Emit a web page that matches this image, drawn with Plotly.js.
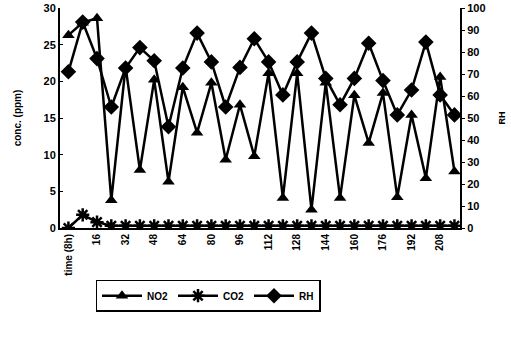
<!DOCTYPE html>
<html>
<head>
<meta charset="utf-8">
<script src="https://cdn.plot.ly/plotly-3.0.1.min.js"></script>
<style>html,body{margin:0;padding:0;background:#fff;}#chart{width:511px;height:339px;}</style>
</head>
<body>
<div id="chart"></div>
<script>
const time = [0, 8, 16, 24, 32, 40, 48, 56, 64, 72, 80, 88, 96, 104, 112, 120, 128, 136, 144, 152, 160, 168, 176, 184, 192, 200, 208, 216];
const no2 = [26.3, 28.0, 28.6, 3.8, 22.0, 7.9, 20.2, 6.3, 19.2, 13.0, 19.8, 9.3, 16.8, 9.8, 21.1, 4.1, 21.1, 2.5, 19.8, 4.1, 18.1, 11.6, 18.4, 4.2, 15.4, 6.8, 20.6, 7.7];
const co2 = [0, 1.8, 0.8, 0.3, 0.3, 0.3, 0.3, 0.3, 0.3, 0.3, 0.3, 0.3, 0.3, 0.3, 0.3, 0.3, 0.3, 0.3, 0.3, 0.3, 0.3, 0.3, 0.3, 0.3, 0.3, 0.3, 0.3, 0.3];
const rh = [71, 93.6, 77, 55, 72.7, 82, 76, 46, 72.7, 88.6, 75.5, 55, 73, 86, 75.5, 60.5, 75.5, 88.6, 68, 56, 68, 84, 67, 51.4, 62.7, 84.5, 60.5, 51.4];
const xTickVals = [0, 16, 32, 48, 64, 80, 96, 112, 128, 144, 160, 176, 192, 208];
const xTickText = ["time (8h)", "16", "32", "48", "64", "80", "96", "112", "128", "144", "160", "176", "192", "208"];

const F = "Liberation Sans, Arial, sans-serif";
const traces = [
  {x: time, y: no2, name: "NO2", type: "scatter", mode: "lines+markers",
   line: {color: "#000", width: 2.5},
   marker: {symbol: "triangle-up", size: 11, color: "#000"}},
  {x: time, y: co2, name: "CO2", type: "scatter", mode: "lines+markers",
   line: {color: "#000", width: 2.5},
   marker: {symbol: "asterisk-open", size: 11, color: "#000", line: {color: "#000", width: 2.5}}},
  {x: time, y: rh, name: "RH", type: "scatter", mode: "lines+markers", yaxis: "y2",
   line: {color: "#000", width: 2.5},
   marker: {symbol: "diamond", size: 12, color: "#000"}}
];

const layout = {
  width: 511, height: 339,
  margin: {l: 60, r: 51, t: 8, b: 111},
  paper_bgcolor: "#fff", plot_bgcolor: "#fff",
  font: {family: F, color: "#000", size: 11, weight: "bold"},
  showlegend: true,
  legend: {orientation: "h", x: 0.37, xanchor: "center", y: -0.235, yanchor: "top",
    bordercolor: "#000", borderwidth: 1.5, font: {size: 10, family: F, weight: "bold"},
    itemwidth: 40, traceorder: "normal", tracegroupgap: 0},
  xaxis: {range: [-4.7, 219.1], tickmode: "array", tickvals: xTickVals, ticktext: xTickText,
    tickangle: -90, tickfont: {size: 10, family: F, weight: "bold"},
    showgrid: false, zeroline: false, showline: true, linecolor: "#000", linewidth: 2,
    ticks: "", ticklen: 0},
  yaxis: {range: [0, 30], dtick: 5, showgrid: false, zeroline: false,
    showline: true, linecolor: "#000", linewidth: 2, ticks: "inside", ticklen: 3, tickcolor: "#000",
    tickfont: {size: 11, family: F, weight: "bold"},
    title: {text: "conc. (ppm)", font: {size: 10, family: F, weight: "bold"}, standoff: 20}},
  yaxis2: {range: [0, 100], dtick: 10, overlaying: "y", side: "right", showgrid: false, zeroline: false,
    showline: true, linecolor: "#000", linewidth: 2, ticks: "outside", ticklen: 3, tickcolor: "#000",
    tickfont: {size: 11, family: F, weight: "bold"},
    title: {text: "RH", font: {size: 9, family: F, weight: "bold"}, standoff: 14}}
};

Plotly.newPlot("chart", traces, layout, {displayModeBar: false, staticPlot: true});
</script>
</body>
</html>
